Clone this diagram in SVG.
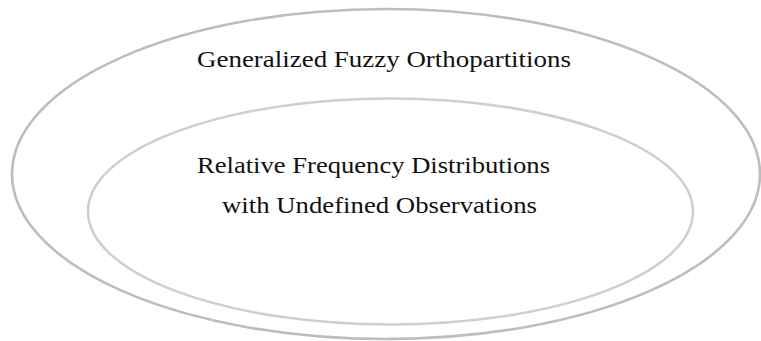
<svg xmlns="http://www.w3.org/2000/svg" width="761" height="341" viewBox="0 0 761 341">
<style>
.set{fill:none;stroke-width:2.6}
.lbl{font-family:"Liberation Serif","DejaVu Serif",serif;font-size:24px;fill:#111}
</style>
<rect width="761" height="341" fill="#fff"/>
<g id="outer">
<ellipse class="set" cx="386" cy="174" rx="374" ry="165" stroke="#bdbdbd"/>
<text class="lbl" x="197" y="67" textLength="374" lengthAdjust="spacingAndGlyphs">Generalized Fuzzy Orthopartitions</text>
</g>
<g id="inner">
<ellipse class="set" cx="390.5" cy="211.5" rx="302.5" ry="113" stroke="#cfcfcf"/>
<text class="lbl" x="197" y="173" textLength="353" lengthAdjust="spacingAndGlyphs">Relative Frequency Distributions</text>
<text class="lbl" x="222" y="213" textLength="315" lengthAdjust="spacingAndGlyphs">with Undefined Observations</text>
</g>
<g id="connectors"></g>
</svg>
